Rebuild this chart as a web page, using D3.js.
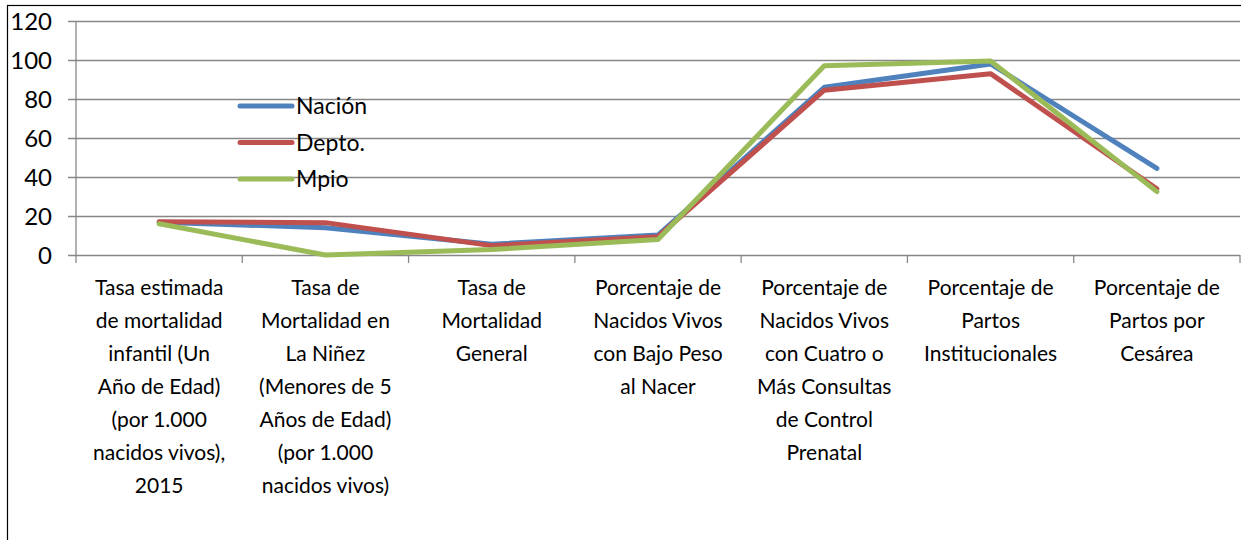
<!DOCTYPE html>
<html>
<head>
<meta charset="utf-8">
<script src="https://cdn.jsdelivr.net/npm/d3@7"></script>
<style>
  body { margin: 0; background: #fff; }
  text { font-family: Lato, "Open Sans", sans-serif; fill: #000; }
</style>
</head>
<body>
<script>
// categories, one array of lines per label
var categories = [
  ["Tasa estimada", "de mortalidad", "infantil (Un", "Año de Edad)", "(por 1.000", "nacidos vivos),", "2015"],
  ["Tasa de", "Mortalidad en", "La Niñez", "(Menores de 5", "Años de Edad)", "(por 1.000", "nacidos vivos)"],
  ["Tasa de", "Mortalidad", "General"],
  ["Porcentaje de", "Nacidos Vivos", "con Bajo Peso", "al Nacer"],
  ["Porcentaje de", "Nacidos Vivos", "con Cuatro o", "Más Consultas", "de Control", "Prenatal"],
  ["Porcentaje de", "Partos", "Institucionales"],
  ["Porcentaje de", "Partos por", "Cesárea"]
];

var nacion = [16.8, 14.0, 5.5, 10.2, 86.0, 98.0, 44.4];
var depto  = [17.0, 16.6, 4.8, 9.4, 84.5, 93.0, 34.0];
var mpio   = [16.0, 0.0, 2.8, 8.0, 97.0, 99.5, 32.5];

var seriesNames = ["Nación", "Depto.", "Mpio"];
var yTicks = [0, 20, 40, 60, 80, 100, 120];

var colors = ["#4F81BD", "#C0504D", "#9BBB59"];

var W = 1241, H = 540;
var margin = {top: 21, right: 1, bottom: 285, left: 76},
    width = W - margin.left - margin.right,
    height = H - margin.top - margin.bottom;

var svg = d3.select("body").append("svg")
    .attr("width", W)
    .attr("height", H);

// outer chart border
svg.append("rect")
    .attr("x", 7.5).attr("y", 5.5)
    .attr("width", W).attr("height", H)
    .attr("fill", "none")
    .attr("stroke", "#000")
    .attr("stroke-width", 1.2);

var g = svg.append("g")
    .attr("transform", "translate(" + margin.left + "," + margin.top + ")");

var x = d3.scaleBand()
    .domain(d3.range(categories.length))
    .range([0, width]);

var y = d3.scaleLinear()
    .domain([0, 120])
    .range([height, 0]);

// gridlines + y axis
var yAxis = d3.axisLeft(y)
    .tickValues(yTicks)
    .tickSize(-width)
    .tickPadding(24)
    .tickFormat(d3.format("d"));

var gy = g.append("g").call(yAxis);
gy.select(".domain").remove();
gy.selectAll(".tick line")
    .attr("x1", -8)
    .attr("stroke", "#878787")
    .attr("stroke-width", 1.3);
gy.selectAll(".tick text")
    .attr("x", -24)
    .style("font-size", "24px")
    .attr("dy", "0.35em");

// vertical axis line
g.append("line")
    .attr("x1", 0).attr("x2", 0)
    .attr("y1", 0).attr("y2", height + 8)
    .attr("stroke", "#878787")
    .attr("stroke-width", 1.3);

// x axis ticks at category boundaries
var bounds = d3.range(categories.length + 1).map(function(i) {
  return i < categories.length ? x(i) : x(i - 1) + x.bandwidth();
});
g.selectAll(".xtick")
    .data(bounds.slice(1))
    .enter().append("line")
    .attr("class", "xtick")
    .attr("x1", function(d) { return d; })
    .attr("x2", function(d) { return d; })
    .attr("y1", height).attr("y2", height + 8)
    .attr("stroke", "#878787")
    .attr("stroke-width", 1.3);

// category labels
var labels = g.selectAll(".cat")
    .data(categories)
    .enter().append("text")
    .attr("class", "cat")
    .attr("text-anchor", "middle")
    .style("font-size", "21px")
    .attr("transform", function(d, i) {
      return "translate(" + (x(i) + x.bandwidth() / 2) + "," + (height + 40) + ")";
    });
labels.selectAll("tspan")
    .data(function(d) { return d; })
    .enter().append("tspan")
    .attr("x", 0)
    .attr("y", function(d, i) { return i * 33; })
    .text(function(d) { return d; });

// lines
var line = d3.line()
    .x(function(d, i) { return x(i) + x.bandwidth() / 2; })
    .y(function(d) { return y(d); });

var series = [nacion, depto, mpio];
g.selectAll(".series")
    .data(series)
    .enter().append("path")
    .attr("class", "series")
    .attr("d", line)
    .attr("fill", "none")
    .attr("stroke", function(d, i) { return colors[i]; })
    .attr("stroke-width", 5)
    .attr("stroke-linejoin", "round")
    .attr("stroke-linecap", "round");

// legend
var legend = svg.append("g")
    .attr("transform", "translate(240,106)");
var items = legend.selectAll(".item")
    .data(seriesNames)
    .enter().append("g")
    .attr("transform", function(d, i) { return "translate(0," + (i * 36.5) + ")"; });
items.append("line")
    .attr("x1", 0).attr("x2", 52)
    .attr("stroke", function(d, i) { return colors[i]; })
    .attr("stroke-width", 5)
    .attr("stroke-linecap", "round");
items.append("text")
    .attr("x", 56)
    .attr("dy", "0.35em")
    .style("font-size", "23px")
    .text(function(d) { return d; });
</script>
</body>
</html>
